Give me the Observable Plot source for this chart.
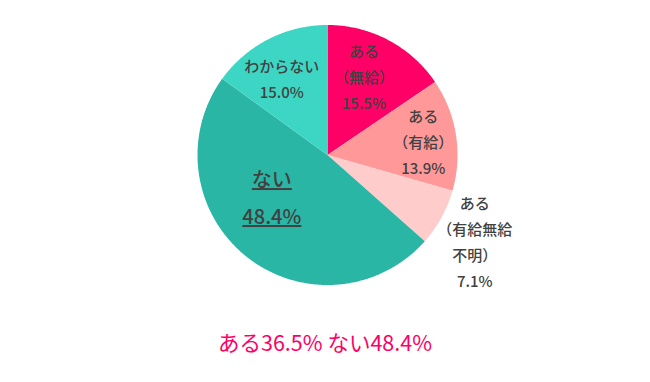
<!DOCTYPE html>
<html><head><meta charset="utf-8">
<script src="https://cdn.jsdelivr.net/npm/d3@7"></script>
<script src="https://cdn.jsdelivr.net/npm/@observablehq/plot@0.6"></script>
<style>
body{margin:0;background:#fff;font-family:"Noto Sans CJK JP",sans-serif;}
#caption{width:650px;text-align:center;font-size:21.5px;line-height:44px;color:#FF0066;font-family:"Noto Sans CJK JP",sans-serif;}
</style></head><body><div id="chart"></div><div id="caption"></div>
<script>
// ---- data ----
const categories = ["ある（無給）", "ある（有給）", "ある（有給無給不明）", "ない", "わからない"];
const labelNames = ["ある\n（無給）", "ある\n（有給）", "ある\n（有給無給\n不明）", "ない", "わからない"];
const values = [15.5, 13.9, 7.1, 48.4, 15.0];
const captionText = "ある36.5% ない48.4%";

// ---- style ----
const colors = ["#FF0066", "#FF9999", "#FFCCCC", "#2AB6A5", "#3DD6C5"];
const labelR = [0.68, 0.746, 1.31, 0.5, 0.69];
const labelDx = [-5, 0, -2, -15, -5];
const labelDy = [-2, 0, 3, -12, 2];

const W = 650, H = 320, R = 130, CX = 327, CY = 154.5;

const arcs = d3.pie().sort(null).value(d => d)(values);
const slicePts = [];
arcs.forEach((a, i) => {
  slicePts.push({k: categories[i], x: 0, y: 0});
  const n = Math.max(2, Math.ceil((a.endAngle - a.startAngle) / (Math.PI / 360)));
  for (let j = 0; j <= n; j++) {
    const t = a.startAngle + (a.endAngle - a.startAngle) * j / n;
    slicePts.push({k: categories[i], x: Math.sin(t), y: Math.cos(t)});
  }
});

const labelData = arcs.map((a, i) => {
  const m = (a.startAngle + a.endAngle) / 2;
  return {
    i, k: categories[i],
    text: labelNames[i] + "\n" + values[i].toFixed(1) + "%",
    x: labelR[i] * Math.sin(m), y: labelR[i] * Math.cos(m)
  };
});

const small = labelData.filter(d => d.i !== 3);
const big = labelData.filter(d => d.i === 3);

const plot = Plot.plot({
  width: W, height: H, margin: 0,
  x: {domain: [-CX / R, (W - CX) / R], axis: null},
  y: {domain: [-(H - CY) / R, CY / R], axis: null},
  color: {domain: categories, range: colors},
  style: {fontFamily: "'Noto Sans CJK JP', sans-serif", background: "#fff"},
  marks: [
    Plot.line(slicePts, {x: "x", y: "y", z: "k", fill: "k", stroke: null, curve: "linear-closed"}),
    ...small.map(d => Plot.text([d], {
      x: "x", y: "y", text: "text", fill: "#414141", fontSize: 15, fontWeight: 500,
      lineHeight: 1.73, lineAnchor: "middle", dx: labelDx[d.i], dy: labelDy[d.i]
    })),
    Plot.text(big, {
      x: "x", y: "y", text: "text", fill: "#414141", fontSize: 20, fontWeight: 500,
      lineHeight: 1.85, lineAnchor: "middle", dx: labelDx[3], dy: labelDy[3]
    })
  ]
});
plot.querySelectorAll("text").forEach(t => {
  if (t.getAttribute("font-size") === "20") t.style.textDecoration = "underline";
});
plot.querySelectorAll("g").forEach(g => {
  if (g.getAttribute("font-size") === "20") g.querySelectorAll("text").forEach(t => t.style.textDecoration = "underline");
});
document.getElementById("chart").appendChild(plot);
document.getElementById("caption").textContent = captionText;
</script></body></html>
